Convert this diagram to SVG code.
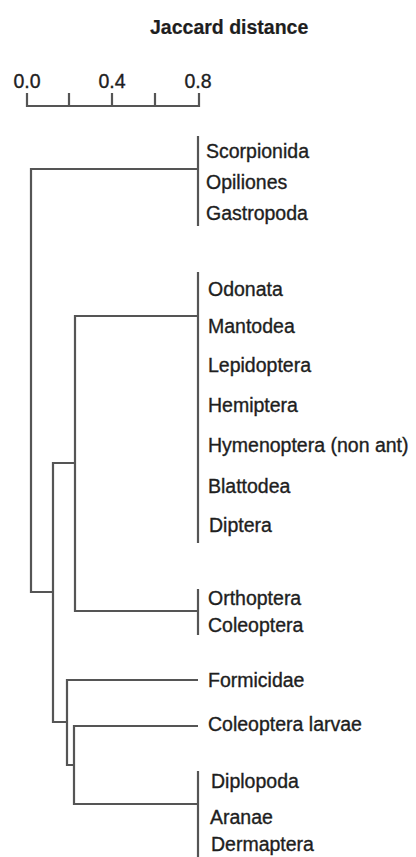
<svg xmlns="http://www.w3.org/2000/svg" width="416" height="857" viewBox="0 0 416 857">
<style>
text{font-family:"Liberation Sans",Arial,sans-serif;font-size:19.5px;fill:#1e1e1e;stroke:#1e1e1e;stroke-width:0.35}
.t{font-weight:bold;font-size:19.5px;stroke-width:0.2}
.l{fill:none;stroke:#555;stroke-width:2.2;stroke-linejoin:miter}
</style>
<rect width="416" height="857" fill="#fff"/>
<g id="title"><text class="t" x="150" y="34">Jaccard distance</text></g>
<g id="axis">
<text x="27" y="88" text-anchor="middle">0.0</text>
<text x="112" y="88" text-anchor="middle">0.4</text>
<text x="198" y="88" text-anchor="middle">0.8</text>
<path class="l" d="M27,93V106H199V93M69,93V106M112,93V106M155,93V106"/>
</g>
<g id="connectors">
<path class="l" d="M198,136V226"/>
<path class="l" d="M198,272V543"/>
<path class="l" d="M198,589V635"/>
<path class="l" d="M198,771V857"/>
<path class="l" d="M198,169H31V592H53"/>
<path class="l" d="M198,316H75V611H198"/>
<path class="l" d="M75,463H53V722H67"/>
<path class="l" d="M198,680H67V765H74"/>
<path class="l" d="M198,726H74V804H198"/>
</g>
<g id="n-scorpionida"><text x="206" y="158">Scorpionida</text></g>
<g id="n-opiliones"><text x="206" y="189">Opiliones</text></g>
<g id="n-gastropoda"><text x="206" y="220">Gastropoda</text></g>
<g id="n-odonata"><text x="208" y="296">Odonata</text></g>
<g id="n-mantodea"><text x="208" y="333">Mantodea</text></g>
<g id="n-lepidoptera"><text x="208" y="372">Lepidoptera</text></g>
<g id="n-hemiptera"><text x="208" y="412">Hemiptera</text></g>
<g id="n-hymenoptera"><text x="208" y="452">Hymenoptera (non ant)</text></g>
<g id="n-blattodea"><text x="208" y="493">Blattodea</text></g>
<g id="n-diptera"><text x="209" y="532">Diptera</text></g>
<g id="n-orthoptera"><text x="208" y="605">Orthoptera</text></g>
<g id="n-coleoptera"><text x="208" y="632">Coleoptera</text></g>
<g id="n-formicidae"><text x="208" y="687">Formicidae</text></g>
<g id="n-coleoptera-larvae"><text x="208" y="731">Coleoptera larvae</text></g>
<g id="n-diplopoda"><text x="211" y="788">Diplopoda</text></g>
<g id="n-aranae"><text x="210" y="824">Aranae</text></g>
<g id="n-dermaptera"><text x="211" y="851">Dermaptera</text></g>
</svg>
